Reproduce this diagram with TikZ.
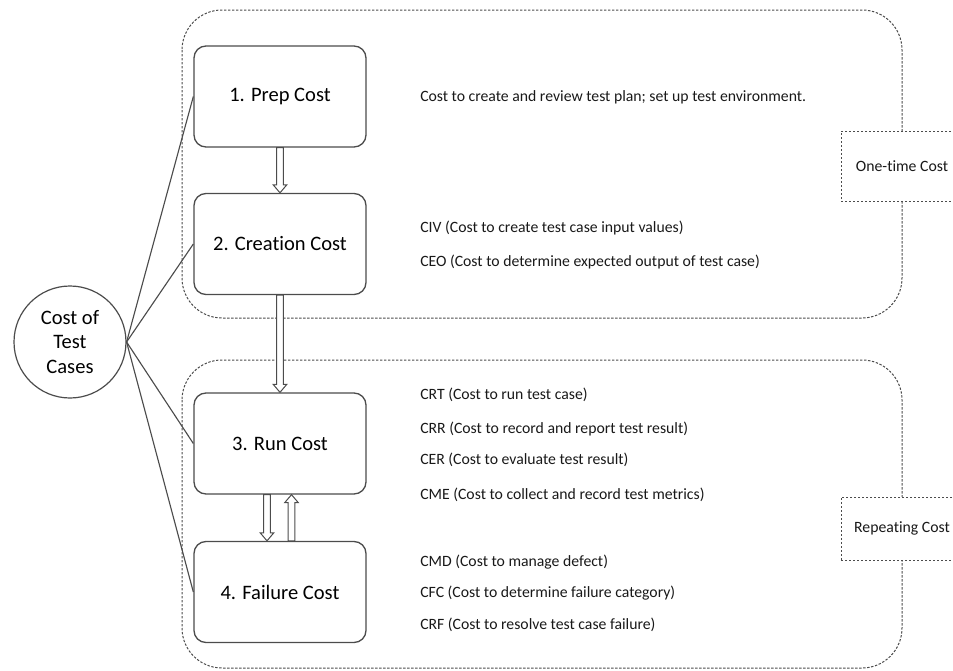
\documentclass[tikz,border=0pt]{standalone}
\usepackage{fontspec}
\setmainfont{Carlito}[Ligatures=NoCommon]
\usetikzlibrary{calc}
\begin{document}
\begin{tikzpicture}[x=0.75pt,y=-0.75pt,
  stagebox/.style={draw=black!70, line width=1pt, rounded corners=9pt, minimum width=129pt, minimum height=75.75pt, inner sep=0pt, font=\fontsize{15.4}{18}\selectfont, text=black},
  grp/.style={draw=black!70, line width=0.75pt, dash pattern=on 1.8pt off 1.2pt, rounded corners=30pt},
  lbl/.style={draw=black!70, fill=white, line width=0.75pt, dash pattern=on 1.8pt off 1.2pt, inner sep=0pt, minimum width=91.5pt, font=\fontsize{11.8}{14}\selectfont, text=black!90},
  desc/.style={anchor=west, inner sep=0pt, font=\fontsize{11.8}{14}\selectfont, text=black!90},
  link/.style={draw=black!70, line width=0.85pt},
  hol/.style={draw=black!70, fill=white, line width=0.75pt},
  hdown/.style={to path={($(\tikztostart)+(-3.3,0)$) -- ($(\tikztotarget)+(-3.3,-8)$) -- ($(\tikztotarget)+(-6.8,-8)$) -- (\tikztotarget) -- ($(\tikztotarget)+(6.8,-8)$) -- ($(\tikztotarget)+(3.3,-8)$) -- ($(\tikztostart)+(3.3,0)$) -- cycle}},
  hup/.style={to path={($(\tikztostart)+(-3.3,0)$) -- ($(\tikztotarget)+(-3.3,8)$) -- ($(\tikztotarget)+(-6.8,8)$) -- (\tikztotarget) -- ($(\tikztotarget)+(6.8,8)$) -- ($(\tikztotarget)+(3.3,8)$) -- ($(\tikztostart)+(3.3,0)$) -- cycle}}
]
\useasboundingbox (0,0) rectangle (953,671);

% groups
\draw[grp] (182,10) rectangle (902,318);
\draw[grp] (182,360) rectangle (902,668);

% group labels
\node[lbl, minimum height=52.5pt] (onetime) at (902,166) {One-time Cost};
\node[lbl, minimum height=47.25pt] (repeat) at (902,528.5) {Repeating Cost};

% stages
\node[stagebox] (prep) at (280,96.5) {1. Prep Cost};
\node[stagebox] (create) at (280,244) {2. Creation Cost};
\node[stagebox] (run) at (280,443.5) {3. Run Cost};
\node[stagebox] (fail) at (280,592) {4. Failure Cost};

% root
\node[circle, draw=black!70, line width=0.9pt, minimum size=84pt, inner sep=0pt, align=center, font=\fontsize{15.4}{18.4}\selectfont, text=black] (cost) at (70,342) {Cost of\\Test\\Cases};

% links
\draw[link] (cost.east) -- (prep.west);
\draw[link] (cost.east) -- (create.west);
\draw[link] (cost.east) -- (run.west);
\draw[link] (cost.east) -- (fail.west);

% hollow arrows
\path[hol] (prep.south) to[hdown] (create.north);
\path[hol] (create.south) to[hdown] (run.north);
\coordinate (rd1) at ($(run.south)+(-13,0)$);
\coordinate (rd2) at ($(fail.north)+(-13,0)$);
\coordinate (fu1) at ($(fail.north)+(11.5,0)$);
\coordinate (fu2) at ($(run.south)+(11.5,0)$);
\path[hol] (rd1) to[hdown] (rd2);
\path[hol] (fu1) to[hup] (fu2);

% descriptions
\node[desc] (d1) at (420,97) {Cost to create and review test plan; set up test environment.};
\node[desc] (d2) at (420,228) {CIV (Cost to create test case input values)};
\node[desc] (d3) at (420,262) {CEO (Cost to determine expected output of test case)};
\node[desc] (d4) at (420,395) {CRT (Cost to run test case)};
\node[desc] (d5) at (420,429) {CRR (Cost to record and report test result)};
\node[desc] (d6) at (420,460) {CER (Cost to evaluate test result)};
\node[desc] (d7) at (420,495) {CME (Cost to collect and record test metrics)};
\node[desc] (d8) at (420,562) {CMD (Cost to manage defect)};
\node[desc] (d9) at (420,593) {CFC (Cost to determine failure category)};
\node[desc] (d10) at (420,625) {CRF (Cost to resolve test case failure)};
\end{tikzpicture}
\end{document}
